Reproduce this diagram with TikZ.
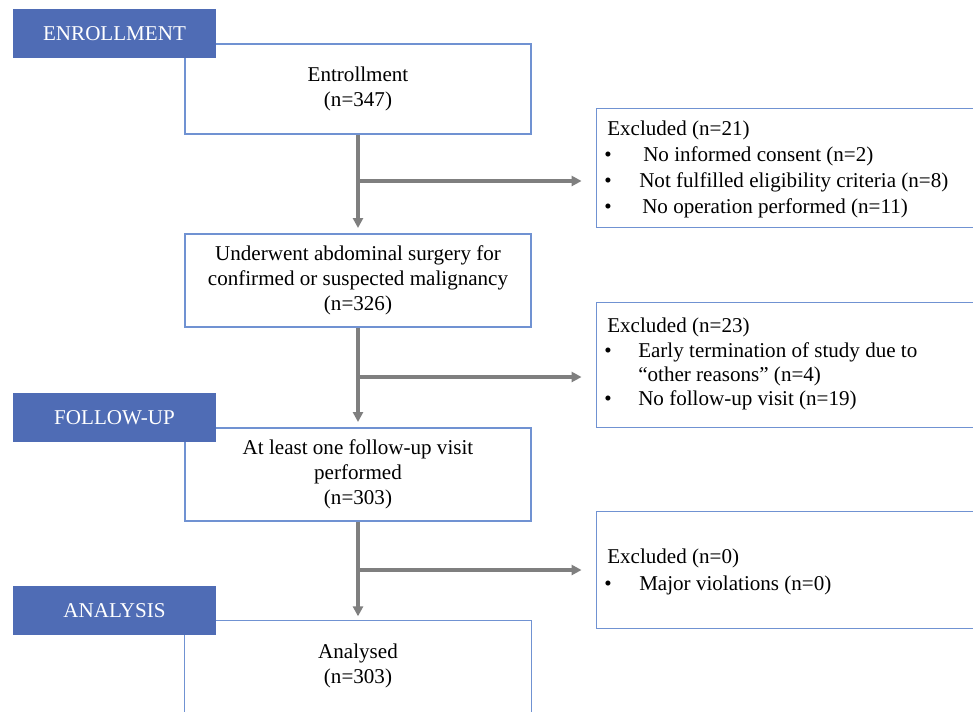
\documentclass[tikz,border=0pt]{standalone}
\usepackage{fontspec}
\setmainfont{Liberation Serif}
\usetikzlibrary{arrows.meta,calc}
\definecolor{hdrblue}{RGB}{79,108,181}
\definecolor{boxblue}{RGB}{112,146,210}
\definecolor{arrgray}{RGB}{127,127,127}
\newcommand{\bul}[1]{\llap{\makebox[#1][l]{\textbullet}}}
\begin{document}
\begin{tikzpicture}[x=0.75pt,y=-0.75pt,
  every node/.style={font=\fontsize{15.8}{18.9}\selectfont},
  mainbox/.style={draw=boxblue, line width=1pt, minimum width=259.5pt, align=center, inner sep=0pt},
  openbox/.style={draw=none, minimum width=292.5pt, inner sep=0pt},
  boxline/.style={draw=boxblue, line width=1pt},
  header/.style={fill=hdrblue, draw=none, text=white, minimum width=152.25pt, minimum height=36.75pt, inner sep=0pt},
  exline/.style={anchor=base west, inner sep=0pt},
  arr/.style={draw=arrgray, line width=2.4pt, -{Triangle[length=7.5pt,width=7.5pt]}}]
\useasboundingbox (0,0) rectangle (973,711);
% main boxes
\node[mainbox, minimum height=67.5pt] (b1) at (358,89) {\raisebox{-3pt}{\begin{tabular}{c}Entrollment\\(n=347)\end{tabular}}};
\node[mainbox, minimum height=69.75pt] (b2) at (358,280.5) {Underwent abdominal surgery for\\confirmed or suspected malignancy\\(n=326)};
\node[mainbox, minimum height=69.75pt] (b3) at (358,474.5) {At least one follow-up visit\\performed\\(n=303)};
\node[mainbox, draw=none, minimum height=67.5pt] (b4) at (358,666) {Analysed\\(n=303)};
\draw[boxline] (b4.south west) -- (b4.north west) -- (b4.north east) -- (b4.south east);
% excluded boxes (cut at the right edge)
\node[openbox, minimum height=88.9pt] (e1) at (791.5,167.75) {};
\draw[boxline] (e1.north east) -- (e1.north west) -- (e1.south west) -- (e1.south east);
\node[openbox, minimum height=93pt] (e2) at (791.5,365) {};
\draw[boxline] (e2.north east) -- (e2.north west) -- (e2.south west) -- (e2.south east);
\node[openbox, minimum height=87pt] (e3) at (791.5,570) {};
\draw[boxline] (e3.north east) -- (e3.north west) -- (e3.south west) -- (e3.south east);
% excluded texts
\node[exline] (e1a) at (607,135) {Excluded (n=21)};
\node[exline] (e1b) at (643,161) {\bul{29.25pt}No informed consent (n=2)};
\node[exline] (e1c) at (639,187) {\bul{26.25pt}Not fulfilled eligibility criteria (n=8)};
\node[exline] (e1d) at (642,213) {\bul{28.5pt}No operation performed (n=11)};
\node[exline] (e2a) at (607,332) {Excluded (n=23)};
\node[exline] (e2b) at (638,357) {\bul{25.5pt}Early termination of study due to};
\node[exline] (e2c) at (638,381) {“other reasons” (n=4)};
\node[exline] (e2d) at (638,405) {\bul{25.5pt}No follow-up visit (n=19)};
\node[exline] (e3a) at (607,563) {Excluded (n=0)};
\node[exline] (e3b) at (639,590) {\bul{26.25pt}Major violations (n=0)};
% connectors
\coordinate (j1) at (358,181);
\coordinate (j2) at (358,377);
\coordinate (j3) at (358,570);
\draw[arr, shorten >=4pt] (b1.south) -- (b2.north);
\draw[arr, shorten >=4pt] (b2.south) -- (b3.north);
\draw[arr, shorten >=3pt] (b3.south) -- (b4.north);
\draw[arr, shorten >=11pt] (j1) -- (j1 -| e1.west);
\draw[arr, shorten >=11pt] (j2) -- (j2 -| e2.west);
\draw[arr, shorten >=11pt] (j3) -- (j3 -| e3.west);
% stage headers
\node[header] (h1) at (114.5,33.5) {ENROLLMENT};
\node[header] (h2) at (114.5,417.5) {FOLLOW-UP};
\node[header] (h3) at (114.5,610.5) {ANALYSIS};
\end{tikzpicture}
\end{document}
